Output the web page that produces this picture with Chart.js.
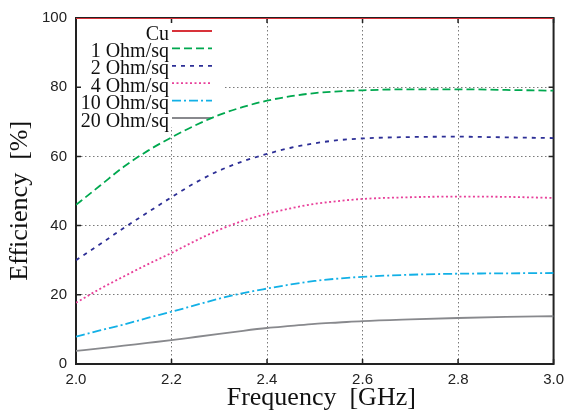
<!DOCTYPE html>
<html>
<head>
<meta charset="utf-8">
<script src="https://cdn.jsdelivr.net/npm/chart.js@4/dist/chart.umd.min.js"></script>
<style>
  html, body { margin: 0; padding: 0; background: #fff; }
  #wrap { width: 571px; height: 414px; }
</style>
</head>
<body>
<div id="wrap"><canvas id="effChart" width="571" height="414"></canvas></div>
<script>
const freq = [2.0, 2.05, 2.1, 2.15, 2.2, 2.25, 2.3, 2.35, 2.4, 2.45, 2.5, 2.55, 2.6, 2.7, 2.8, 2.9, 3.0];
const cu    = [100, 100, 100, 100, 100, 100, 100, 100, 100, 100, 100, 100, 100, 100, 100, 100, 100];
const ohm1  = [46, 51.5, 57, 61.6, 65.5, 69.0, 72.0, 74.3, 76.1, 77.4, 78.3, 78.8, 79.1, 79.4, 79.4, 79.2, 79.0];
const ohm2  = [30, 34.6, 39.3, 43.8, 48.2, 52.4, 55.9, 58.6, 60.7, 62.5, 63.8, 64.7, 65.2, 65.6, 65.7, 65.5, 65.3];
const ohm4  = [17.7, 21.7, 25.3, 28.8, 32.1, 35.6, 38.8, 41.4, 43.4, 45.0, 46.3, 47.1, 47.7, 48.2, 48.4, 48.3, 48.0];
const ohm10 = [7.9, 9.7, 11.4, 13.3, 15.1, 17.0, 18.9, 20.5, 21.8, 23.0, 24.0, 24.7, 25.2, 25.8, 26.1, 26.2, 26.3];
const ohm20 = [3.8, 4.5, 5.3, 6.1, 6.9, 7.8, 8.7, 9.6, 10.4, 11.0, 11.6, 12.0, 12.4, 12.9, 13.3, 13.6, 13.8];

const seriesLabels = ['Cu', '1 Ohm/sq', '2 Ohm/sq', '4 Ohm/sq', '10 Ohm/sq', '20 Ohm/sq'];
const seriesData = [cu, ohm1, ohm2, ohm4, ohm10, ohm20];
const seriesColors = ['#d8323a', '#00a84f', '#2d2f96', '#e8409a', '#12b0e6', '#88898d'];
const seriesDash = [[], [8, 4], [4, 5], [2, 2.5], [9, 3, 2, 3], []];

function toPoints(values) {
    return values.map((v, i) => ({ x: freq[i], y: v }));
}

// frame + legend inside the plot (text left of the line sample), drawn under the curves
const innerLegend = {
    id: 'innerLegend',
    beforeDatasetsDraw(chart) {
        const ctx = chart.ctx;
        const a = chart.chartArea;
        const xs = chart.scales.x, ys = chart.scales.y;
        ctx.save();
        ctx.setLineDash([]);

        ctx.fillStyle = '#fff';
        ctx.fillRect(a.left + 2, 23, 145, 104);

        ctx.strokeStyle = '#222';
        ctx.lineWidth = 2;
        ctx.strokeRect(a.left, a.top, a.right - a.left, a.bottom - a.top);
        ctx.lineWidth = 1.5;
        ctx.beginPath();
        xs.ticks.forEach(t => {
            const px = xs.getPixelForValue(t.value);
            ctx.moveTo(px, a.bottom); ctx.lineTo(px, a.bottom - 5);
            ctx.moveTo(px, a.top); ctx.lineTo(px, a.top + 5);
        });
        ys.ticks.forEach(t => {
            const py = ys.getPixelForValue(t.value);
            ctx.moveTo(a.left, py); ctx.lineTo(a.left + 5, py);
            ctx.moveTo(a.right, py); ctx.lineTo(a.right - 5, py);
        });
        ctx.stroke();

        ctx.font = '20px "Liberation Serif", "Times New Roman", serif';
        ctx.textAlign = 'right';
        ctx.textBaseline = 'alphabetic';
        chart.data.datasets.forEach((ds, i) => {
            const y = 31 + i * 17.4;
            ctx.fillStyle = '#111';
            ctx.fillText(ds.label, 169, y + 8.5);
            ctx.strokeStyle = ds.borderColor;
            ctx.lineWidth = ds.borderWidth;
            ctx.setLineDash(ds.borderDash);
            ctx.beginPath();
            ctx.moveTo(172, y);
            ctx.lineTo(212, y);
            ctx.stroke();
        });
        ctx.restore();
    }
};

const ctx = document.getElementById('effChart').getContext('2d');
const chart = new Chart(ctx, {
    type: 'line',
    data: {
        datasets: seriesLabels.map((label, i) => ({
            label: label,
            data: toPoints(seriesData[i]),
            borderColor: seriesColors[i],
            borderDash: seriesDash[i],
            borderWidth: i === 0 ? 2 : 1.8,
            pointRadius: 0,
            fill: false,
            cubicInterpolationMode: 'monotone'
        }))
    },
    options: {
        responsive: false,
        animation: false,
        layout: { padding: { top: 17, right: 12, left: 0, bottom: 0 } },
        plugins: {
            legend: { display: false },
            tooltip: { enabled: false }
        },
        scales: {
            x: {
                type: 'linear',
                min: 2.0,
                max: 3.0,
                afterFit: s => { s.height = 50; },
                grid: { color: '#7a7a7a', lineWidth: 1, drawTicks: false },
                border: { display: true, color: '#222', width: 2, dash: [1.5, 2.5] },
                ticks: {
                    stepSize: 0.2,
                    padding: 7,
                    color: '#222',
                    font: { family: '"Liberation Sans", Arial, sans-serif', size: 15 },
                    callback: v => v.toFixed(1)
                },
                title: {
                    display: true,
                    text: '  Frequency  [GHz]',
                    color: '#111',
                    font: { family: '"Liberation Serif", "Times New Roman", serif', size: 26, lineHeight: 1.2 },
                    padding: { top: 0, bottom: 0 }
                }
            },
            y: {
                min: 0,
                max: 100,
                afterFit: s => { s.width = 76; },
                grid: { color: '#7a7a7a', lineWidth: 1, drawTicks: false },
                border: { display: true, color: '#222', width: 2, dash: [1.5, 2.5] },
                ticks: {
                    stepSize: 20,
                    padding: 9,
                    color: '#222',
                    font: { family: '"Liberation Sans", Arial, sans-serif', size: 15 }
                },
                title: {
                    display: true,
                    text: 'Efficiency  [%]   ',
                    color: '#111',
                    font: { family: '"Liberation Serif", "Times New Roman", serif', size: 26, lineHeight: 1.2 },
                    padding: { top: 5, bottom: 0 }
                }
            }
        }
    },
    plugins: [innerLegend]
});
</script>
</body>
</html>
